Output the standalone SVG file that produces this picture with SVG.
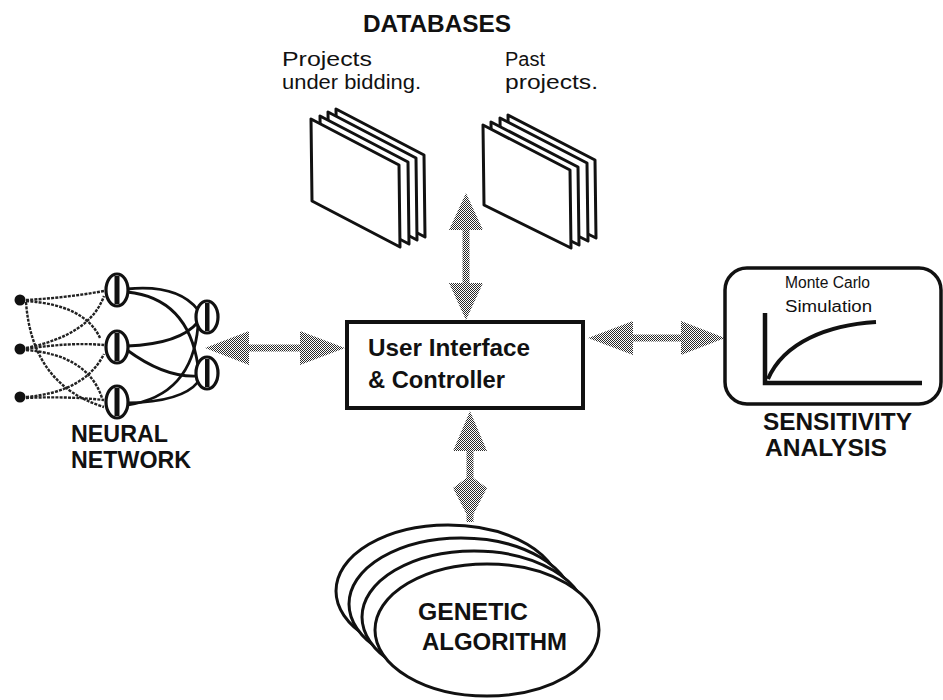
<svg xmlns="http://www.w3.org/2000/svg" width="943" height="700" viewBox="0 0 943 700">
  <defs>
    <!-- dithered grey used for the two-way data-flow arrows -->
    <pattern id="stipple" width="2" height="2" patternUnits="userSpaceOnUse">
      <rect width="2" height="2" fill="#ffffff"/>
      <rect x="0" y="0" width="1" height="1" fill="#2a2a2a"/>
      <rect x="1" y="1" width="1" height="1" fill="#2a2a2a"/>
    </pattern>
  </defs>
  <style>
    .lbl { font-family: "Liberation Sans", Arial, Helvetica, sans-serif; font-weight: bold; font-size: 24px; fill: #111; }
    .txt { font-family: "Liberation Sans", Arial, Helvetica, sans-serif; font-size: 20px; fill: #111; }
    .small { font-family: "Liberation Sans", Arial, Helvetica, sans-serif; font-size: 16px; fill: #111; }
    .page { fill: #fff; stroke: #111; stroke-width: 3; stroke-linejoin: round; }
    .flow { fill: url(#stipple); stroke: none; }
    .syn { fill: none; stroke: #222; stroke-width: 2.4; stroke-dasharray: 3 1.2; }
    .wt { fill: none; stroke: #111; stroke-width: 2.8; }
    .neuron { fill: #fff; stroke: #111; stroke-width: 3.2; }
    .bar { fill: #111; }
    .ga { fill: #fff; stroke: #111; stroke-width: 3; }
  </style>
  <rect width="943" height="700" fill="#ffffff"/>

  <!-- databases -->
  <g id="databases">
    <text class="lbl" x="363" y="32" textLength="148" lengthAdjust="spacingAndGlyphs">DATABASES</text>
  </g>
  <g id="db-bidding">
    <text class="txt" x="282" y="66" textLength="90" lengthAdjust="spacingAndGlyphs">Projects</text>
    <text class="txt" x="282" y="89" textLength="139" lengthAdjust="spacingAndGlyphs">under bidding.</text>
    <polygon class="page" points="336,109 337,191 425,237 424,155"/>
    <polygon class="page" points="328,112 329,194 417,240 416,158"/>
    <polygon class="page" points="320,116 321,198 409,244 408,162"/>
    <polygon class="page" points="311,119 312,201 400,247 399,165"/>
  </g>
  <g id="db-past">
    <text class="txt" x="505" y="66" textLength="40" lengthAdjust="spacingAndGlyphs">Past</text>
    <text class="txt" x="505" y="89" textLength="93" lengthAdjust="spacingAndGlyphs">projects.</text>
    <polygon class="page" points="508,115 509,195 596,238 595,160"/>
    <polygon class="page" points="500,118 501,198 588,241 587,163"/>
    <polygon class="page" points="491,122 492,202 579,245 578,167"/>
    <polygon class="page" points="483,125 484,205 571,248 570,170"/>
  </g>

  <!-- data-flow arrows -->
  <g id="connectors">
    <!-- databases <-> controller -->
    <path class="flow" d="M466,193 L483,230 L469.5,230 L469.5,283 L483,283 L466,320 L449,283 L462.5,283 L462.5,230 L449,230 Z"/>
    <!-- neural network <-> controller -->
    <path class="flow" d="M205,348 L249,331 L249,344.5 L300,344.5 L300,331 L345,348 L300,365 L300,351.5 L249,351.5 L249,365 Z"/>
    <!-- controller <-> sensitivity analysis -->
    <path class="flow" d="M588,338 L633,321 L633,334.5 L681,334.5 L681,321 L725,338 L681,355 L681,341.5 L633,341.5 L633,355 Z"/>
    <!-- controller <-> genetic algorithm -->
    <path class="flow" d="M470,411 L487,451 L473.5,451 L473.5,478 L487,488 L473.5,514 L473.5,522 L466.5,522 L466.5,514 L453,488 L466.5,478 L466.5,451 L453,451 Z"/>
  </g>

  <!-- controller -->
  <g id="controller">
    <rect x="347" y="322" width="236" height="86" fill="#fff" stroke="#111" stroke-width="4"/>
    <text class="lbl" x="368" y="356" textLength="162" lengthAdjust="spacingAndGlyphs">User Interface</text>
    <text class="lbl" x="368" y="388" textLength="137" lengthAdjust="spacingAndGlyphs">&amp; Controller</text>
  </g>

  <!-- neural network -->
  <g id="neural-network">
    <!-- input to hidden links -->
    <path class="syn" d="M26,300 Q65,298 104,291"/>
    <path class="syn" d="M26,301 Q85,305 100,338"/>
    <path class="syn" d="M26,302 Q32,385 104,407"/>
    <path class="syn" d="M26,348 Q90,335 104,296"/>
    <path class="syn" d="M26,349 Q70,342 104,345"/>
    <path class="syn" d="M26,350 Q88,355 102,398"/>
    <path class="syn" d="M26,397 Q85,392 104,354"/>
    <path class="syn" d="M26,398 Q65,396 104,400"/>
    <!-- hidden to output links -->
    <path class="wt" d="M127,289 Q178,284 198,310"/>
    <path class="wt" d="M127,292 Q188,298 198,366"/>
    <path class="wt" d="M127,346 Q180,344 198,322"/>
    <path class="wt" d="M127,350 Q165,378 198,376"/>
    <path class="wt" d="M127,405 Q192,396 198,326"/>
    <path class="wt" d="M127,403 Q182,402 198,382"/>
    <!-- inputs -->
    <circle cx="20" cy="300" r="5.5" fill="#111"/>
    <circle cx="20" cy="349" r="5.5" fill="#111"/>
    <circle cx="20" cy="397" r="5.5" fill="#111"/>
    <!-- hidden layer -->
    <ellipse class="neuron" cx="117" cy="290" rx="11" ry="16"/>
    <rect class="bar" x="114.5" y="276" width="5" height="28"/>
    <ellipse class="neuron" cx="117" cy="347" rx="11" ry="16"/>
    <rect class="bar" x="114.5" y="333" width="5" height="28"/>
    <ellipse class="neuron" cx="117" cy="402" rx="11" ry="16"/>
    <rect class="bar" x="114.5" y="388" width="5" height="28"/>
    <!-- output layer -->
    <ellipse class="neuron" cx="207" cy="317" rx="11" ry="16"/>
    <rect class="bar" x="205" y="303" width="4.5" height="28"/>
    <ellipse class="neuron" cx="207" cy="373" rx="11" ry="16"/>
    <rect class="bar" x="205" y="359" width="4.5" height="28"/>
    <text class="lbl" x="71" y="442" textLength="97" lengthAdjust="spacingAndGlyphs">NEURAL</text>
    <text class="lbl" x="71" y="468" textLength="120" lengthAdjust="spacingAndGlyphs">NETWORK</text>
  </g>

  <!-- sensitivity analysis -->
  <g id="sensitivity-analysis">
    <rect x="725" y="268" width="216" height="136" rx="22" ry="22" fill="#fff" stroke="#111" stroke-width="3.5"/>
    <text class="small" x="785" y="288" textLength="85" lengthAdjust="spacingAndGlyphs">Monte Carlo</text>
    <text class="small" x="785" y="312" textLength="87" lengthAdjust="spacingAndGlyphs">Simulation</text>
    <path d="M765,313 L765,383 L922,383" fill="none" stroke="#111" stroke-width="4.5"/>
    <path d="M768,379 C784,342 828,325 876,322" fill="none" stroke="#111" stroke-width="4"/>
    <text class="lbl" x="763" y="430" textLength="149" lengthAdjust="spacingAndGlyphs">SENSITIVITY</text>
    <text class="lbl" x="765" y="456" textLength="122" lengthAdjust="spacingAndGlyphs">ANALYSIS</text>
  </g>

  <!-- genetic algorithm: stacked population ellipses -->
  <g id="genetic-algorithm">
    <ellipse class="ga" cx="448" cy="591" rx="112" ry="66"/>
    <ellipse class="ga" cx="461" cy="604" rx="112" ry="66"/>
    <ellipse class="ga" cx="474" cy="617" rx="112" ry="66"/>
    <ellipse class="ga" cx="487" cy="630" rx="112" ry="66" stroke-width="4"/>
    <text class="lbl" x="418" y="620" textLength="110" lengthAdjust="spacingAndGlyphs">GENETIC</text>
    <text class="lbl" x="422" y="650" textLength="145" lengthAdjust="spacingAndGlyphs">ALGORITHM</text>
  </g>
</svg>
